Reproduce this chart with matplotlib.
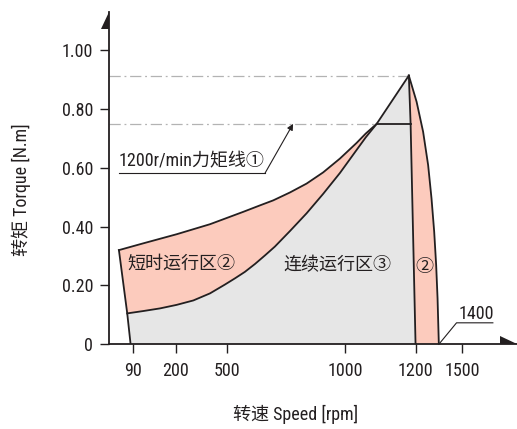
import numpy as np
import matplotlib
matplotlib.use('Agg')
import matplotlib.pyplot as plt
from matplotlib.ticker import FixedLocator, NullLocator, FixedFormatter

plt.rcParams['font.family'] = ['Roboto Condensed', 'Noto Sans CJK SC', 'DejaVu Sans']

# ---- schematic (non-linear) speed axis: rpm anchors and their relative positions
scale_rpm = [0, 90, 200, 500, 1000, 1200, 1400, 1500, 1740]
scale_pos = [0, 23.4, 66.4, 117.4, 235.7, 306.4, 329.7, 352.7, 407.9]

xticks = [90, 200, 500, 1000, 1200, 1500]
xtick_labels = ['90', '200', '500', '1000', '1200', '1500']
yticks = [0, 0.2, 0.4, 0.6, 0.8, 1.0]
ytick_labels = ['0', '0.20', '0.40', '0.60', '0.80', '1.00']

peak_rpm, peak_torque = 1181, 0.913
rated_torque = 0.749

# upper boundary of short-time zone (left)
upper_rpm = [37, 117, 206, 402, 570, 641, 697, 768, 838, 908, 979, 1033, 1059, 1090]
upper_t = [0.320, 0.343, 0.374, 0.408, 0.450, 0.472, 0.489, 0.516, 0.546, 0.584, 0.631, 0.684, 0.716, 0.749]
# boundary between short-time and continuous zones
lower_rpm = [69, 117, 160, 206, 304, 402, 490, 535, 577, 620, 662, 704, 768, 838, 908, 979, 1033, 1059, 1090]
lower_t = [0.105, 0.113, 0.122, 0.134, 0.149, 0.173, 0.203, 0.224, 0.246, 0.273, 0.302, 0.332,
           0.385, 0.445, 0.511, 0.582, 0.660, 0.703, 0.749]
left_bottom_rpm = 82
# inner (continuous) right edge
inner_rpm = [1181, 1186, 1200]
inner_t = [0.913, 0.749, 0.0]
# outer (short-time) right edge
outer_rpm = [1181, 1209, 1265, 1308, 1337, 1360, 1377, 1389, 1400]
outer_t = [0.913, 0.824, 0.722, 0.609, 0.496, 0.383, 0.269, 0.156, 0.0]

DARK = '#231f20'
RED = '#fccbbd'
GRAY = '#e6e6e6'
DASH = '#b3b3b3'


def fwd(x):
    return np.interp(x, scale_rpm, scale_pos)


def inv(u):
    return np.interp(u, scale_pos, scale_rpm)


fig = plt.figure(figsize=(5.17, 4.29), dpi=100)
ax = fig.add_axes([109.3 / 517, 1 - 344.3 / 429, 407.7 / 517, 332.3 / 429])
ax.set_xscale('function', functions=(fwd, inv))
ax.set_xlim(0, 1740)
ax.set_ylim(0, 1.129)

# fills
gray_x = lower_rpm + inner_rpm + [left_bottom_rpm]
gray_y = lower_t + inner_t + [0.0]
ax.fill(gray_x, gray_y, color=GRAY, lw=0, zorder=1)
redl_x = upper_rpm + lower_rpm[::-1]
redl_y = upper_t + lower_t[::-1]
ax.fill(redl_x, redl_y, color=RED, lw=0, zorder=1)
redr_x = outer_rpm + inner_rpm[::-1]
redr_y = outer_t + inner_t[::-1]
ax.fill(redr_x, redr_y, color=RED, lw=0, zorder=1)

# dash-dot reference lines
dd = (0, (9, 3, 1.5, 3))
ax.plot([0, peak_rpm], [peak_torque, peak_torque], color=DASH, lw=0.9, ls=dd, zorder=0.5)
ax.plot([0, upper_rpm[-1]], [rated_torque, rated_torque], color=DASH, lw=0.9, ls=dd, zorder=0.5)

lw = 1.3
kw = dict(color=DARK, lw=lw, zorder=3, solid_joinstyle='round')
ax.plot([upper_rpm[0], lower_rpm[0], left_bottom_rpm], [upper_t[0], lower_t[0], 0], **kw)
ax.plot(upper_rpm + [peak_rpm], upper_t + [peak_torque], **kw)
ax.plot(lower_rpm, lower_t, **kw)
ax.plot(inner_rpm, inner_t, **kw)
ax.plot(outer_rpm, outer_t, **kw)
ax.plot([upper_rpm[-1], inner_rpm[1]], [rated_torque, rated_torque], **kw)

# annotations
fs = 13
ax.text(37, 0.620, '1200r/min力矩线①', fontsize=fs, ha='left', va='center', color=DARK)
ax.plot([37, 662], [0.581, 0.581], color=DARK, lw=0.8)
ax.annotate('', xy=(781, rated_torque), xytext=(662, 0.581),
            arrowprops=dict(arrowstyle='-|>', color=DARK, lw=0.8, mutation_scale=9,
                            shrinkA=0, shrinkB=0))
ax.text(69, 0.275, '短时运行区②', fontsize=fs, ha='left', va='center', color=DARK)
ax.text(970, 0.269, '连续运行区③', fontsize=fs, ha='center', va='center', color=DARK)
ax.text(1280, 0.264, '②', fontsize=fs, ha='center', va='center', color=DARK)
ax.text(1561, 0.103, '1400', fontsize=fs, ha='center', va='center', color=DARK)
ax.plot([1400, 1477, 1635], [0, 0.073, 0.073], color=DARK, lw=0.8, clip_on=False)

# axes styling
for s in ['top', 'right']:
    ax.spines[s].set_visible(False)
for s in ['left', 'bottom']:
    ax.spines[s].set_color(DARK)
    ax.spines[s].set_linewidth(1.3)
ax.xaxis.set_major_locator(FixedLocator(xticks))
ax.xaxis.set_major_formatter(FixedFormatter(xtick_labels))
ax.xaxis.set_minor_locator(NullLocator())
ax.yaxis.set_major_locator(FixedLocator(yticks))
ax.yaxis.set_major_formatter(FixedFormatter(ytick_labels))
ax.yaxis.set_minor_locator(NullLocator())
ax.tick_params(axis='both', direction='out', length=6.5, width=1, color=DARK,
               labelsize=fs, labelcolor=DARK)
ax.tick_params(axis='x', pad=6)
ax.tick_params(axis='y', pad=5)

# half arrowheads at the axis ends
ax.fill([0, 0, -0.0204], [1, 0.9488, 0.9488], transform=ax.transAxes, color=DARK, clip_on=False, lw=0)
ax.fill([1, 0.959, 0.959], [0, 0, 0.0235], transform=ax.transAxes, color=DARK, clip_on=False, lw=0)

fig.text(21.7 / 517, 1 - 190 / 429, '转矩 Torque [N.m]', rotation=90, fontsize=fs,
         ha='center', va='center', color=DARK)
fig.text(296 / 517, 1 - 414 / 429, '转速 Speed [rpm]', fontsize=fs,
         ha='center', va='center', color=DARK)

fig.savefig('out.png', dpi=100)
